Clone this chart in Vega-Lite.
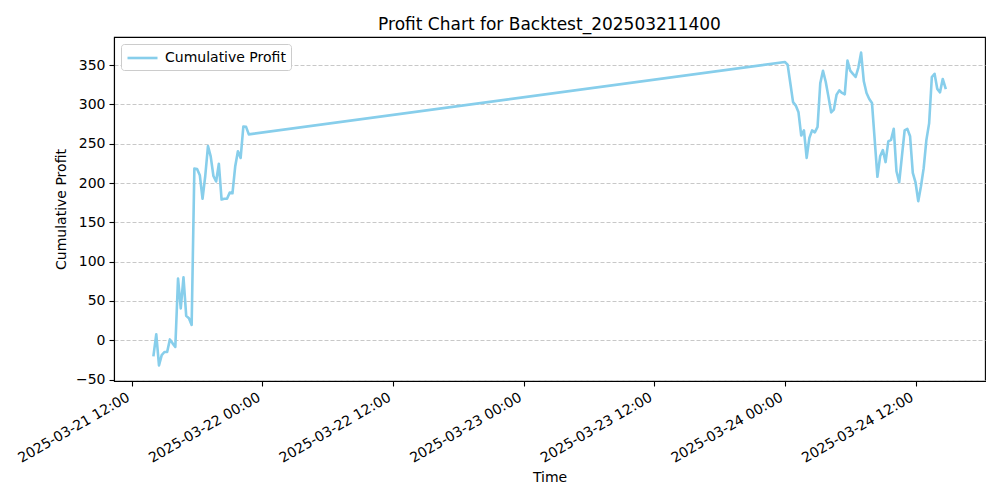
{
  "$schema": "https://vega.github.io/schema/vega-lite/v6.json",
  "autosize": "none",
  "width": 871,
  "height": 344,
  "padding": {"left": 114, "top": 37, "right": 15, "bottom": 119},
  "background": "white",
  "config": {
    "font": "DejaVu Sans",
    "view": {"stroke": "black", "strokeWidth": 1.1},
    "axis": {
      "domainColor": "black", "domainWidth": 1.1,
      "tickColor": "black", "tickWidth": 1.1, "tickSize": 5,
      "labelColor": "black", "labelFontSize": 14, "labelPadding": 4,
      "titleColor": "black", "titleFontSize": 14, "titleFontWeight": "normal"
    }
  },
  "title": {"text": "Profit Chart for Backtest_202503211400", "fontSize": 17, "fontWeight": "normal", "color": "black", "anchor": "middle", "offset": 3},
  "data": {"values": [
    {"t": "2025-03-21T14:00:00", "v": -19},
    {"t": "2025-03-21T14:15:00", "v": 7.6},
    {"t": "2025-03-21T14:30:00", "v": -32},
    {"t": "2025-03-21T14:45:00", "v": -19},
    {"t": "2025-03-21T15:00:00", "v": -15},
    {"t": "2025-03-21T15:15:00", "v": -15},
    {"t": "2025-03-21T15:30:00", "v": 1},
    {"t": "2025-03-21T15:45:00", "v": -4},
    {"t": "2025-03-21T16:00:00", "v": -8.5},
    {"t": "2025-03-21T16:15:00", "v": 78.5},
    {"t": "2025-03-21T16:30:00", "v": 40.5},
    {"t": "2025-03-21T16:45:00", "v": 80},
    {"t": "2025-03-21T17:00:00", "v": 31},
    {"t": "2025-03-21T17:15:00", "v": 28},
    {"t": "2025-03-21T17:30:00", "v": 19.5},
    {"t": "2025-03-21T17:45:00", "v": 218.5},
    {"t": "2025-03-21T18:00:00", "v": 218},
    {"t": "2025-03-21T18:15:00", "v": 210},
    {"t": "2025-03-21T18:30:00", "v": 180},
    {"t": "2025-03-21T18:45:00", "v": 209},
    {"t": "2025-03-21T19:00:00", "v": 247},
    {"t": "2025-03-21T19:15:00", "v": 234},
    {"t": "2025-03-21T19:30:00", "v": 209},
    {"t": "2025-03-21T19:45:00", "v": 202},
    {"t": "2025-03-21T20:00:00", "v": 224.5},
    {"t": "2025-03-21T20:15:00", "v": 179},
    {"t": "2025-03-21T20:30:00", "v": 180},
    {"t": "2025-03-21T20:45:00", "v": 180},
    {"t": "2025-03-21T21:00:00", "v": 188},
    {"t": "2025-03-21T21:15:00", "v": 187},
    {"t": "2025-03-21T21:30:00", "v": 221},
    {"t": "2025-03-21T21:45:00", "v": 240.5},
    {"t": "2025-03-21T22:00:00", "v": 232},
    {"t": "2025-03-21T22:15:00", "v": 272},
    {"t": "2025-03-21T22:30:00", "v": 271.5},
    {"t": "2025-03-21T22:45:00", "v": 262},
    {"t": "2025-03-24T00:00:00", "v": 354},
    {"t": "2025-03-24T00:15:00", "v": 350.7},
    {"t": "2025-03-24T00:30:00", "v": 327},
    {"t": "2025-03-24T00:45:00", "v": 303},
    {"t": "2025-03-24T01:00:00", "v": 298.6},
    {"t": "2025-03-24T01:15:00", "v": 290},
    {"t": "2025-03-24T01:30:00", "v": 260.5},
    {"t": "2025-03-24T01:45:00", "v": 267},
    {"t": "2025-03-24T02:00:00", "v": 232},
    {"t": "2025-03-24T02:15:00", "v": 257.5},
    {"t": "2025-03-24T02:30:00", "v": 267},
    {"t": "2025-03-24T02:45:00", "v": 264.6},
    {"t": "2025-03-24T03:00:00", "v": 271.5},
    {"t": "2025-03-24T03:15:00", "v": 327},
    {"t": "2025-03-24T03:30:00", "v": 343},
    {"t": "2025-03-24T03:45:00", "v": 329},
    {"t": "2025-03-24T04:00:00", "v": 310},
    {"t": "2025-03-24T04:15:00", "v": 290},
    {"t": "2025-03-24T04:30:00", "v": 293.5},
    {"t": "2025-03-24T04:45:00", "v": 312.6},
    {"t": "2025-03-24T05:00:00", "v": 318},
    {"t": "2025-03-24T05:15:00", "v": 314.7},
    {"t": "2025-03-24T05:30:00", "v": 313},
    {"t": "2025-03-24T05:45:00", "v": 356},
    {"t": "2025-03-24T06:00:00", "v": 343},
    {"t": "2025-03-24T06:15:00", "v": 339},
    {"t": "2025-03-24T06:30:00", "v": 335},
    {"t": "2025-03-24T06:45:00", "v": 347},
    {"t": "2025-03-24T07:00:00", "v": 366},
    {"t": "2025-03-24T07:15:00", "v": 329.5},
    {"t": "2025-03-24T07:30:00", "v": 314.7},
    {"t": "2025-03-24T07:45:00", "v": 307},
    {"t": "2025-03-24T08:00:00", "v": 302},
    {"t": "2025-03-24T08:15:00", "v": 255},
    {"t": "2025-03-24T08:30:00", "v": 208},
    {"t": "2025-03-24T08:45:00", "v": 234},
    {"t": "2025-03-24T09:00:00", "v": 242},
    {"t": "2025-03-24T09:15:00", "v": 226.7},
    {"t": "2025-03-24T09:30:00", "v": 253},
    {"t": "2025-03-24T09:45:00", "v": 255},
    {"t": "2025-03-24T10:00:00", "v": 269},
    {"t": "2025-03-24T10:15:00", "v": 215},
    {"t": "2025-03-24T10:30:00", "v": 201},
    {"t": "2025-03-24T10:45:00", "v": 234},
    {"t": "2025-03-24T11:00:00", "v": 267},
    {"t": "2025-03-24T11:15:00", "v": 269},
    {"t": "2025-03-24T11:30:00", "v": 259.6},
    {"t": "2025-03-24T11:45:00", "v": 213},
    {"t": "2025-03-24T12:00:00", "v": 201},
    {"t": "2025-03-24T12:15:00", "v": 177},
    {"t": "2025-03-24T12:30:00", "v": 196},
    {"t": "2025-03-24T12:45:00", "v": 219},
    {"t": "2025-03-24T13:00:00", "v": 255},
    {"t": "2025-03-24T13:15:00", "v": 276},
    {"t": "2025-03-24T13:30:00", "v": 335},
    {"t": "2025-03-24T13:45:00", "v": 339},
    {"t": "2025-03-24T14:00:00", "v": 319.8},
    {"t": "2025-03-24T14:15:00", "v": 315.5},
    {"t": "2025-03-24T14:30:00", "v": 332.5},
    {"t": "2025-03-24T14:45:00", "v": 321}
  ]},
  "mark": {"type": "line", "strokeWidth": 2.6, "strokeJoin": "round", "strokeCap": "square", "clip": true},
  "encoding": {
    "x": {
      "field": "t", "type": "temporal",
      "scale": {"domain": [
        {"year": 2025, "month": 3, "date": 21, "hours": 10, "minutes": 22},
        {"year": 2025, "month": 3, "date": 24, "hours": 18, "minutes": 23}
      ], "nice": false},
      "axis": {
        "title": "Time", "titlePadding": 5,
        "grid": false,
        "values": [
          {"year": 2025, "month": 3, "date": 21, "hours": 12},
          {"year": 2025, "month": 3, "date": 22, "hours": 0},
          {"year": 2025, "month": 3, "date": 22, "hours": 12},
          {"year": 2025, "month": 3, "date": 23, "hours": 0},
          {"year": 2025, "month": 3, "date": 23, "hours": 12},
          {"year": 2025, "month": 3, "date": 24, "hours": 0},
          {"year": 2025, "month": 3, "date": 24, "hours": 12}
        ],
        "format": "%Y-%m-%d %H:%M",
        "labelAngle": -30, "labelAlign": "right", "labelBaseline": "top",
        "labelOffset": -7,
        "labelOverlap": false, "labelFlush": false
      }
    },
    "y": {
      "field": "v", "type": "quantitative",
      "scale": {"domain": [-51.9, 385.9], "nice": false, "zero": false},
      "axis": {
        "title": "Cumulative Profit", "titlePadding": 7,
        "values": [-50, 0, 50, 100, 150, 200, 250, 300, 350],
        "grid": true, "gridColor": "#c8c8c8", "gridDash": [4, 2], "gridWidth": 1
      }
    },
    "color": {
      "datum": "Cumulative Profit",
      "scale": {"range": ["#87CEEB"]},
      "legend": {
        "title": null, "orient": "top-left", "offset": 7,
        "symbolType": "M-1,0L3,0", "symbolSize": 225, "symbolStrokeWidth": 2.6,
        "labelFontSize": 14, "labelColor": "black", "labelOffset": 21,
        "fillColor": "white", "strokeColor": "#cccccc", "cornerRadius": 3,
        "padding": 5
      }
    }
  }
}
